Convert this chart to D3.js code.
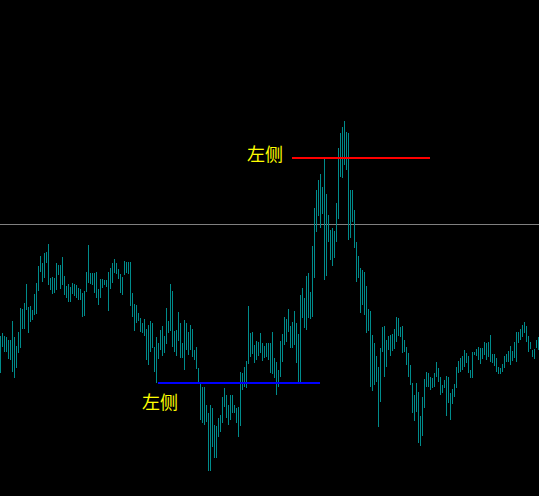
<!DOCTYPE html>
<html>
<head>
<meta charset="utf-8">
<title>左侧</title>
<script src="https://cdn.jsdelivr.net/npm/d3@7/dist/d3.min.js"></script>
<style>
  html, body { margin: 0; padding: 0; background: #000; overflow: hidden; }
</style>
</head>
<body>
<div id="chart"></div>
<script>
// bar highs / lows, one per bar (arbitrary price units)
var highs = [
  164,167,164,163,160,160,179,163,154,168,192,191,197,216,193,194,190,206,217,234,
  244,237,247,248,256,222,223,222,237,235,235,243,224,214,216,213,217,216,215,212,
  211,207,209,228,255,227,227,227,228,211,221,221,220,220,228,232,237,241,237,231,
  226,223,239,238,238,238,207,196,195,187,182,177,181,171,175,179,177,153,163,157,
  170,174,164,192,179,216,209,169,170,188,
  177,157,180,177,168,175,171,150,153,132,117,113,113,95,87,95,92,75,74,82,
  85,103,112,105,95,105,105,95,92,93,128,127,133,139,194,167,168,155,159,158,
  167,157,154,157,157,
  157,168,142,138,130,159,166,183,181,191,174,178,189,177,166,205,212,202,224,227,
  208,254,292,310,320,326,313,342,306,285,270,272,269,297,352,367,373,379,368,367,
  310,310,290,258,244,
  232,230,228,214,191,189,165,157,144,133,152,173,174,160,164,165,166,171,183,182,
  173,174,160,153,147,135,117,105,117,108,84,103,121,128,127,123,122,127,138,132,
  123,115,120,124,123,
  107,111,116,133,139,142,144,150,147,144,130,148,148,151,153,152,152,158,157,158,
  165,146,146,142,133,132,136,144,146,149,154,149,158,168,168,171,175,178,174,164,
  158,150,151,160,163
];
var lows = [
  127,153,148,148,141,140,128,122,132,147,152,171,171,190,167,178,180,185,186,209,
  228,218,222,237,215,210,206,207,210,225,211,215,205,202,198,198,206,204,202,200,
  200,183,184,208,217,216,215,207,202,195,202,212,215,213,189,211,217,227,226,221,
  207,205,225,227,226,194,183,169,177,179,168,167,164,140,135,148,152,128,117,141,
  150,144,147,156,167,169,153,148,144,159,
  142,142,130,150,145,150,143,140,131,117,80,77,75,78,29,29,53,42,42,63,
  68,77,93,82,75,80,87,87,77,63,74,110,113,112,136,143,146,137,140,144,
  147,139,142,143,140,
  127,126,122,105,113,123,138,155,158,168,152,152,155,137,118,118,182,172,170,182,
  181,183,222,268,284,272,286,220,224,258,240,234,242,258,281,323,322,335,330,260,
  262,278,252,218,222,
  187,195,185,167,169,113,109,115,118,73,98,148,123,133,150,144,149,151,158,164,
  163,147,148,135,123,115,87,79,88,57,54,64,92,113,113,110,112,113,123,118,
  105,107,112,84,97,
  80,96,103,112,127,128,130,133,137,127,122,122,145,144,140,136,141,145,140,143,
  138,137,134,128,126,126,128,132,138,138,135,139,142,138,157,160,163,167,158,148,
  151,143,141,152,150
];

// horizontal levels: [from bar, to bar, price]
var grayLevel = 276;
var redSegment = [146, 215, 343];
var blueSegment = [79, 160, 118];
// text labels: [bar, price, text]
var labels = [
  [123.5, 339, "左侧"],
  [71, 91, "左侧"]
];

var width = 539, height = 496;

var svg = d3.select("#chart").append("svg")
  .attr("width", width)
  .attr("height", height)
  .style("display", "block")
  .style("background", "#000");

var x = d3.scaleLinear().domain([0, highs.length - 1]).range([0, 2 * (highs.length - 1)]);
var y = d3.scaleLinear().domain([0, 500]).range([500, 0]);

// grid level line
svg.append("line")
  .attr("x1", 0).attr("x2", width)
  .attr("y1", Math.round(y(grayLevel)) + 0.5).attr("y2", Math.round(y(grayLevel)) + 0.5)
  .attr("stroke", "#808080")
  .attr("stroke-width", 1);

// bars
svg.selectAll("rect.bar").data(highs).enter().append("rect")
  .attr("class", "bar")
  .attr("x", function(d, i) { return x(i); })
  .attr("y", function(d) { return y(d); })
  .attr("width", 1)
  .attr("height", function(d, i) { return y(lows[i]) - y(d); })
  .attr("fill", "#008b8b")
  .attr("shape-rendering", "crispEdges");

// marked levels
[[redSegment, "#ff0000"], [blueSegment, "#0000ff"]].forEach(function(s) {
  var seg = s[0];
  svg.append("rect")
    .attr("x", x(seg[0]))
    .attr("y", y(seg[2]))
    .attr("width", x(seg[1]) - x(seg[0]))
    .attr("height", 2)
    .attr("fill", s[1])
    .attr("shape-rendering", "crispEdges");
});

svg.selectAll("text.lbl").data(labels).enter().append("text")
  .attr("class", "lbl")
  .attr("x", function(d) { return x(d[0]); })
  .attr("y", function(d) { return y(d[1]); })
  .attr("fill", "#ffff00")
  .style("font-family", "'Noto Sans CJK SC', 'Noto Sans CJK JP', sans-serif")
  .style("font-size", "18px")
  .text(function(d) { return d[2]; });
</script>
</body>
</html>
